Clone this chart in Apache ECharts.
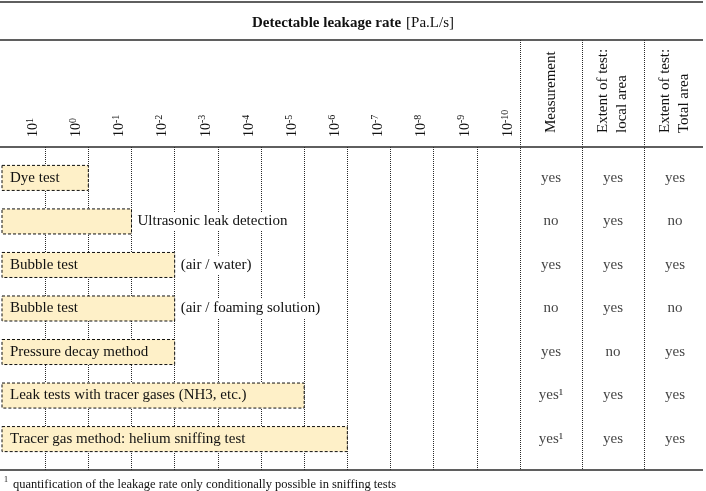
<!DOCTYPE html>
<html lang="en">
<head>
    <meta charset="UTF-8">
    <title>Detectable leakage rate</title>
    <script src="https://cdn.jsdelivr.net/npm/echarts@6/dist/echarts.min.js"></script>
    <style>
        body { margin: 0; background: #fff; }
        .demo { width: 706px; height: 491px; }
    </style>
</head>
<body>
    <div class="demo"></div>
    <script>
        // test methods (rows, top to bottom)
        var methods = ['Dye test', 'Ultrasonic leak detection', 'Bubble test (air / water)',
            'Bubble test (air / foaming solution)', 'Pressure decay method',
            'Leak tests with tracer gases (NH3, etc.)', 'Tracer gas method: helium sniffing test']
        var insideLabels = ['Dye test', '', 'Bubble test', 'Bubble test', 'Pressure decay method',
            'Leak tests with tracer gases (NH3, etc.)', 'Tracer gas method: helium sniffing test']
        var outsideLabels = ['', 'Ultrasonic leak detection', '(air / water)', '(air / foaming solution)', '', '', '']
        // detectable range as exponents of 10 [Pa.L/s]
        var maxRateExp = [1, 1, 1, 1, 1, 1, 1]
        var minRateExp = [0, -1, -2, -2, -2, -5, -6]
        // tick labels 10^1 ... 10^-10
        var tickExps = [1, 0, -1, -2, -3, -4, -5, -6, -7, -8, -9, -10]
        // table on the right
        var tableColumns = ['Measurement', 'Extent of test:\nlocal area', 'Extent of test:\nTotal area']
        var measurement = ['yes', 'no', 'yes', 'no', 'yes', 'yes¹', 'yes¹']
        var localArea = ['yes', 'yes', 'yes', 'yes', 'no', 'yes', 'yes']
        var totalArea = ['yes', 'no', 'yes', 'no', 'yes', 'yes', 'yes']
        var footnote = 'quantification of the leakage rate only conditionally possible in sniffing tests'

        var font = 'Liberation Serif'
        var ink = '#111'
        var rule = '#2a2a2a'

        var div = echarts.init(document.querySelector('.demo'))

        // band index of a decade: 10^1 -> 0, 10^0 -> 1 ...
        function band(exp) { return tickExps.indexOf(exp) }

        var barData = methods.map(function (m, i) {
            return [band(maxRateExp[i]) - 1, band(minRateExp[i]), i]
        })

        var cols = [measurement, localArea, totalArea]
        var cellData = []
        cols.forEach(function (col, c) {
            col.forEach(function (v, r) {
                cellData.push({ value: [c, r], text: v })
            })
        })

        // row scale: same for chart body and table
        var rowMin = -0.71, rowMax = methods.length - 1 + 0.71
        var bodyTop = 147, tableTop = 40, bodyBottom = 21
        var pxPerRow = (491 - bodyBottom - bodyTop) / (rowMax - rowMin)
        var tableRowMin = rowMin - (bodyTop - tableTop) / pxPerRow

        var option = {
            animation: false,
            title: [{
                text: '{b|Detectable leakage rate} {n|[Pa.L/s]}',
                left: 'center',
                top: 14,
                padding: 0,
                textStyle: {
                    rich: {
                        b: { fontFamily: font, fontSize: 15, fontWeight: 'bold', color: ink },
                        n: { fontFamily: font, fontSize: 15, fontWeight: 'normal', color: ink }
                    }
                }
            }, {
                text: '{s|1} {t|' + footnote + '}',
                left: 4,
                top: 476,
                padding: 0,
                textStyle: {
                    rich: {
                        s: { fontFamily: font, fontSize: 8, fontWeight: 'normal', color: ink, verticalAlign: 'top', lineHeight: 8 },
                        t: { fontFamily: font, fontSize: 12.5, fontWeight: 'normal', color: ink, lineHeight: 14 }
                    }
                }
            }],
            grid: [
                { left: 2, right: 186, top: bodyTop, bottom: bodyBottom },
                { left: 520, right: 0, top: tableTop, bottom: bodyBottom }
            ],
            xAxis: [{
                gridIndex: 0,
                type: 'value',
                position: 'top',
                min: -1,
                max: tickExps.length - 1,
                interval: 1,
                axisLine: { show: false },
                axisTick: { show: false },
                splitLine: {
                    show: true,
                    showMinLine: false,
                    showMaxLine: false,
                    lineStyle: { type: 'dotted', color: rule, width: 1 }
                },
                axisLabel: {
                    rotate: 90,
                    margin: 10,
                    verticalAlign: 'bottom',
                    padding: [0, 0, 4, 0],
                    formatter: function (v) {
                        var i = Math.round(v)
                        if (i < 0) return ''
                        return '{n|10}{e|' + tickExps[i] + '}'
                    },
                    rich: {
                        n: { fontFamily: font, fontSize: 14, color: ink, lineHeight: 16 },
                        e: { fontFamily: font, fontSize: 10, color: ink, lineHeight: 10, verticalAlign: 'top' }
                    }
                }
            }, {
                gridIndex: 1,
                type: 'category',
                position: 'top',
                offset: -(bodyTop - tableTop),
                data: tableColumns,
                axisLine: { show: false },
                axisTick: { show: false },
                splitLine: {
                    show: true,
                    showMaxLine: false,
                    lineStyle: { type: 'dotted', color: rule, width: 1 }
                },
                axisLabel: {
                    rotate: 90,
                    margin: 14,
                    fontFamily: font,
                    fontSize: 15,
                    lineHeight: 19,
                    color: ink
                }
            }],
            yAxis: [{
                gridIndex: 0,
                type: 'value',
                inverse: true,
                min: rowMin,
                max: rowMax,
                show: false
            }, {
                gridIndex: 1,
                type: 'value',
                inverse: true,
                min: tableRowMin,
                max: rowMax,
                show: false
            }],
            series: [{
                type: 'custom',
                xAxisIndex: 0,
                yAxisIndex: 0,
                encode: { x: [0, 1], y: 2 },
                data: barData,
                renderItem: function (params, api) {
                    var i = params.dataIndex
                    var p0 = api.coord([api.value(0), api.value(2)])
                    var p1 = api.coord([api.value(1), api.value(2)])
                    var h = api.size([0, 1])[1] * 0.575
                    var children = [{
                        type: 'rect',
                        shape: { x: p0[0], y: p0[1] - h / 2, width: p1[0] - p0[0], height: h },
                        style: { fill: '#FEF0C8', stroke: '#111', lineWidth: 1, lineDash: [3, 2] }
                    }, {
                        type: 'text',
                        x: p0[0] + 8,
                        y: p0[1],
                        style: {
                            text: insideLabels[i], fill: ink, font: '15px "' + font + '"',
                            align: 'left', verticalAlign: 'middle'
                        }
                    }]
                    if (outsideLabels[i]) {
                        children.push({
                            type: 'text',
                            x: p1[0] + 2,
                            y: p0[1],
                            style: {
                                text: outsideLabels[i], fill: ink, font: '15px "' + font + '"',
                                align: 'left', verticalAlign: 'middle',
                                backgroundColor: '#fff', padding: [2, 4, 2, 4]
                            }
                        })
                    }
                    return { type: 'group', children: children }
                }
            }, {
                type: 'scatter',
                xAxisIndex: 1,
                yAxisIndex: 1,
                symbolSize: 0,
                itemStyle: { color: 'transparent' },
                data: cellData,
                label: {
                    show: true,
                    position: 'inside',
                    fontFamily: font,
                    fontSize: 15,
                    color: ink,
                    formatter: function (p) { return p.data.text }
                }
            }],
            graphic: [2, 40, 147, 470].map(function (y) {
                return {
                    type: 'line',
                    shape: { x1: 0, y1: y, x2: 703, y2: y },
                    style: { stroke: rule, lineWidth: 1.5 },
                    z: 10
                }
            })
        }

        div.setOption(option)
    </script>
</body>
</html>
